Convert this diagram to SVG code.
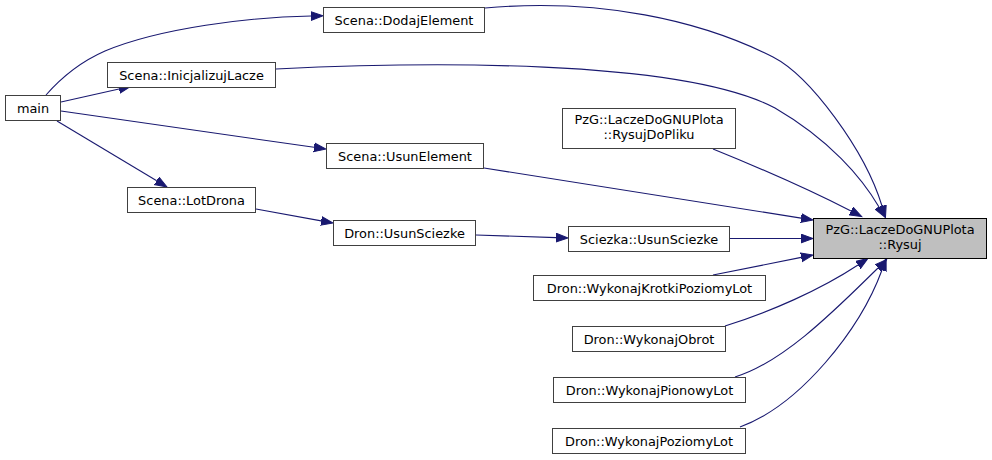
<svg xmlns="http://www.w3.org/2000/svg" width="992" height="460" viewBox="0 0 992 460">
<style>
.n rect{fill:#ffffff;stroke:#404040;stroke-width:1}
.n.hl rect{fill:#bfbfbf;stroke:#000000}
.n text{font-family:"DejaVu Sans",sans-serif;font-size:12.9px;fill:#000000;text-anchor:middle}
.e path{fill:none;stroke:#191970;stroke-width:1.1}
</style>
<defs>
<marker id="ah" markerUnits="userSpaceOnUse" markerWidth="14" markerHeight="12" refX="0" refY="5" orient="auto">
<path d="M0,0.6 L12,5 L0,9.4 Z" fill="#191970" stroke="#191970" stroke-width="1"/>
</marker>
</defs>
<rect width="992" height="460" fill="#ffffff"/>
<g id="edges" class="e">
<path marker-end="url(#ah)" d="M46,95 C60,79 80,62 105,51 C160,28 250,17 311,16"/>
<path marker-end="url(#ah)" d="M61,102 L119,89"/>
<path marker-end="url(#ah)" d="M61,111 L314,147.3"/>
<path marker-end="url(#ah)" d="M57,121 L156.7,180.8"/>
<path marker-end="url(#ah)" d="M256,209 L321.2,220.9"/>
<path marker-end="url(#ah)" d="M476,235 L556,237.6"/>
<path marker-end="url(#ah)" d="M730,238.5 L801,238.5"/>
<path marker-end="url(#ah)" d="M484,168 L801.1,218.1"/>
<path marker-end="url(#ah)" d="M713,149 C760,168 810,190 851,211"/>
<path marker-end="url(#ah)" d="M485,8 C600,-2 700,20 773,57 C810,76 865,150 882,206"/>
<path marker-end="url(#ah)" d="M276,69 C420,62 680,58 775,108 C830,140 862,178 879,207"/>
<path marker-end="url(#ah)" d="M713,275 L801.2,257.4"/>
<path marker-end="url(#ah)" d="M725,326 C770,312 820,290 858,265"/>
<path marker-end="url(#ah)" d="M735,377 C785,362 840,305 878,268"/>
<path marker-end="url(#ah)" d="M740,427 C800,405 860,330 882,270"/>
</g>
<g id="main" class="n"><rect x="5.5" y="95.5" width="55" height="25"/><text x="33" y="112.5">main</text></g>
<g id="dodaj" class="n"><rect x="323.5" y="7.5" width="161" height="25"/><text x="404" y="24.5">Scena::DodajElement</text></g>
<g id="inicjalizuj" class="n"><rect x="107.5" y="62.5" width="168" height="25"/><text x="191.5" y="79.5">Scena::InicjalizujLacze</text></g>
<g id="usunelement" class="n"><rect x="326.5" y="143.5" width="157" height="25"/><text x="405" y="160.5">Scena::UsunElement</text></g>
<g id="lotdrona" class="n"><rect x="127.5" y="187.5" width="128" height="25"/><text x="191.5" y="204.5">Scena::LotDrona</text></g>
<g id="dronusun" class="n"><rect x="333.5" y="220.5" width="142" height="25"/><text x="404.5" y="237.5">Dron::UsunSciezke</text></g>
<g id="rysujdopliku" class="n"><rect x="562.5" y="108.5" width="173" height="40"/><text x="649" y="124">PzG::LaczeDoGNUPlota</text><text x="649" y="139">::RysujDoPliku</text></g>
<g id="sciezkausun" class="n"><rect x="568.5" y="226.5" width="161" height="25"/><text x="649" y="243.5">Sciezka::UsunSciezke</text></g>
<g id="rysuj" class="n hl"><rect x="813.5" y="218.5" width="173" height="40"/><text x="900" y="234">PzG::LaczeDoGNUPlota</text><text x="900" y="249">::Rysuj</text></g>
<g id="krotki" class="n"><rect x="533.5" y="275.5" width="232" height="25"/><text x="649.5" y="292.5">Dron::WykonajKrotkiPoziomyLot</text></g>
<g id="obrot" class="n"><rect x="572.5" y="326.5" width="153" height="25"/><text x="649" y="343.5">Dron::WykonajObrot</text></g>
<g id="pionowy" class="n"><rect x="553.5" y="377.5" width="192" height="25"/><text x="649.5" y="394.5">Dron::WykonajPionowyLot</text></g>
<g id="poziomy" class="n"><rect x="552.5" y="428.5" width="193" height="25"/><text x="649" y="445.5">Dron::WykonajPoziomyLot</text></g>
</svg>
